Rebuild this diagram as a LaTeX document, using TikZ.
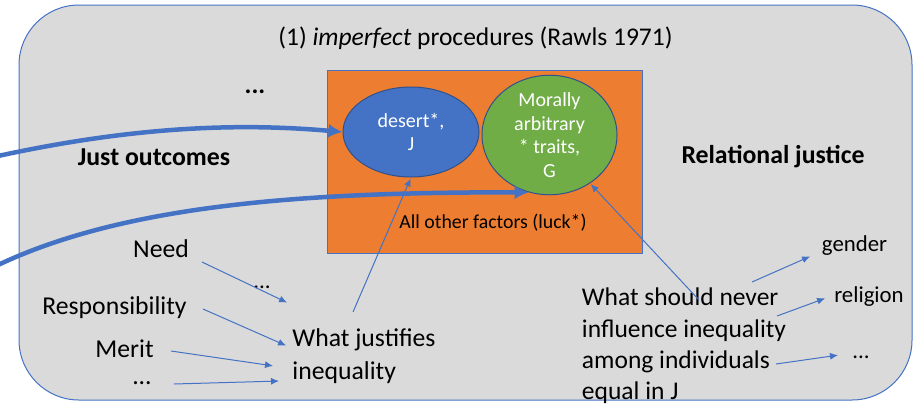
\documentclass[tikz,border=0pt]{standalone}
\usepackage{fontspec}
\setmainfont{Carlito}
\usetikzlibrary{arrows.meta,shapes.geometric}
\definecolor{panelgray}{HTML}{DADADA}
\definecolor{edgeblue}{HTML}{4472C4}
\definecolor{darkblue}{HTML}{2F528F}
\definecolor{luckorange}{HTML}{ED7D31}
\definecolor{traitgreen}{HTML}{70AD47}
\tikzset{
  txt/.style={inner sep=0pt, align=center, text=black},
  thin arrow/.style={draw=edgeblue, line width=1pt, -{Latex[length=8pt,width=7pt]}, shorten >=1pt},
  thick arrow/.style={draw=edgeblue, line width=4.5pt, -{Latex[length=14pt,width=14pt]}},
  oval/.style={ellipse, draw=darkblue, line width=1pt, text=white, align=center, inner sep=0pt, font=\fontsize{20}{23.5}\selectfont},
  big/.style={font=\fontsize{25.7}{33}\selectfont},
  mid/.style={font=\fontsize{22.8}{26}\selectfont},
  head/.style={font=\bfseries\fontsize{25.8}{30}\selectfont},
}
\begin{document}
\begin{tikzpicture}[x=1pt,y=-1pt]
\useasboundingbox (0,0) rectangle (917,405);
% outer panel
\draw[fill=panelgray, draw=edgeblue, line width=1pt, rounded corners=60pt] (19,5) rectangle (912,400);
% central box with the two ovals
\node[draw=edgeblue, fill=luckorange, line width=1pt, minimum width=315pt, minimum height=183pt, inner sep=0pt] (luck) at (484.5,161.5) {};
\node[oval, fill=edgeblue, minimum width=136pt, minimum height=90pt] (desert) at (411,132) {desert*,\\J};
\node[oval, fill=traitgreen, minimum width=135pt, minimum height=108pt] (arb) at (549.5,135) {Morally\\arbitrary\\* traits,\\G};
\node[txt, font=\fontsize{19.8}{22}\selectfont] (other) at (493,223) {All other factors (luck*)};
% headings
\node[txt, font=\fontsize{25.5}{30}\selectfont] (title) at (475.5,38) {(1) \textit{imperfect} procedures (Rawls 1971)};
\node[txt, head] (just) at (154,157) {Just outcomes};
\node[txt, head] (rel) at (773,157) {Relational justice};
\node[txt, head] (topdots) at (255,92) {...};
% left side: what justifies inequality
\node[txt, big] (need) at (161,249) {Need};
\node[txt, big] (resp) at (114.5,308) {Responsibility};
\node[txt, big] (merit) at (124.5,349) {Merit};
\node[txt, big] (ldots) at (142,383) {...};
\node[txt, mid] (mdots) at (262,287) {...};
\node[txt, big, align=left] (just-ineq) at (364,356) {What justifies\\inequality};
% right side: what should never influence inequality
\node[txt, font=\fontsize{25.5}{31.4}\selectfont, align=left] (never) at (684,346) {What should never\\influence inequality\\among individuals\\equal in J};
\node[txt, mid] (gender) at (854.5,246) {gender};
\node[txt, mid] (religion) at (869,297) {religion};
\node[txt, mid] (rdots) at (861,357) {...};
% thin connectors
\coordinate (needS) at (202,262);
\coordinate (respS) at (203,309);
\coordinate (meritS) at (171,351);
\coordinate (ldotsS) at (174,384);
\draw[thin arrow] (needS) -- (288,303);
\draw[thin arrow] (respS) -- (287,346);
\draw[thin arrow] (meritS) -- (274,366);
\draw[thin arrow] (ldotsS) -- (280,381);
\coordinate (jiTop) at (353,312);
\draw[thin arrow] (jiTop) -- (desert.south);
\coordinate (nvTop) at (699,300);
\draw[thin arrow] (nvTop) -- (arb.-50);
\coordinate (nvA) at (752,282);
\coordinate (nvB) at (777,316);
\coordinate (nvC) at (776,364);
\draw[thin arrow] (nvA) -- (811,256);
\draw[thin arrow] (nvB) -- (826,298);
\draw[thin arrow] (nvC) -- (839,355);
% thick connectors entering from the left
\coordinate (inA) at (-20,160);
\coordinate (inB) at (-20,274);
\draw[thick arrow] (inA) .. controls (120,128) and (230,122) .. (desert.west);
\draw[thick arrow] (inB) .. controls (110,205) and (300,192) .. (arb.-110);
\end{tikzpicture}
\end{document}
